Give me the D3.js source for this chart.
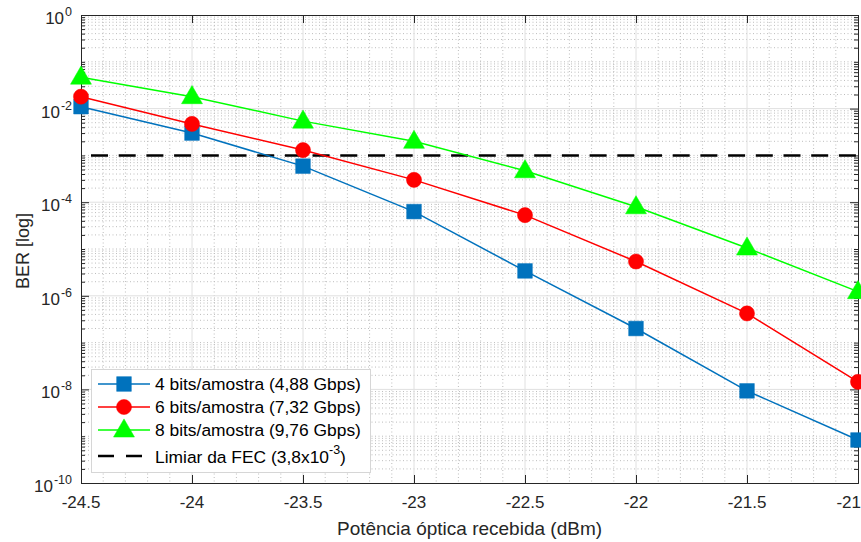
<!DOCTYPE html>
<html>
<head>
<meta charset="utf-8">
<script src="https://cdn.jsdelivr.net/npm/d3@7"></script>
<style>
  html, body { margin: 0; padding: 0; background: #fff; }
  svg { display: block; font-family: "Liberation Sans", Arial, Helvetica, sans-serif; }
</style>
</head>
<body>
<svg id="chart" width="861" height="542"></svg>
<script>
// ---- data ----
const power = [-24.5, -24, -23.5, -23, -22.5, -22, -21.5, -21];
const ber4 = [1.1e-2, 3.0e-3, 5.9e-4, 6.3e-5, 3.4e-6, 2.0e-7, 9.3e-9, 8.3e-10];
const ber6 = [1.8e-2, 4.7e-3, 1.3e-3, 3.0e-4, 5.3e-5, 5.4e-6, 4.2e-7, 1.45e-8];
const ber8 = [4.7e-2, 1.8e-2, 5.4e-3, 2.0e-3, 4.7e-4, 8.0e-5, 1.05e-5, 1.23e-6];
const fecLimit = 1e-3;
const xTicks = [-24.5, -24, -23.5, -23, -22.5, -22, -21.5, -21];
const xTickLabels = ["-24.5", "-24", "-23.5", "-23", "-22.5", "-22", "-21.5", "-21"];
const yTickExps = [0, -2, -4, -6, -8, -10];
const seriesNames = ["4 bits/amostra (4,88 Gbps)", "6 bits/amostra (7,32 Gbps)", "8 bits/amostra (9,76 Gbps)"];
const fecName = "Limiar da FEC (3,8x10";
const fecExp = "-3";
const xLabel = "Potência óptica recebida (dBm)";
const yLabel = "BER [log]";

// ---- layout ----
const L = 81, R = 858, T = 15, B = 483;
const svg = d3.select("#chart");
const x = d3.scaleLinear().domain([-24.5, -21]).range([L, R]);
const y = d3.scaleLog().domain([1e-10, 1]).range([B, T]);
const axisColor = "#262626";

// ---- grid ----
const grid = svg.append("g");
const xMinor = d3.range(-24.5, -20.99, 0.1).map(v => Math.round(v * 10) / 10).filter(v => !xTicks.some(t => Math.abs(t - v) < 1e-6));
grid.selectAll(".xminor").data(xMinor).enter().append("line")
  .attr("x1", d => x(d)).attr("x2", d => x(d)).attr("y1", T).attr("y2", B)
  .attr("stroke", "#bdbdbd").attr("stroke-width", 1).attr("stroke-dasharray", "1,2.5");
const yMinor = [];
for (let e = -10; e < 0; e++) for (let k = 1; k <= 9; k++) {
  if (k === 1 && e % 2 === 0) continue;
  yMinor.push(k * Math.pow(10, e));
}
grid.selectAll(".yminor").data(yMinor).enter().append("line")
  .attr("x1", L).attr("x2", R).attr("y1", d => y(d)).attr("y2", d => y(d))
  .attr("stroke", "#bdbdbd").attr("stroke-width", 1).attr("stroke-dasharray", "1,2.5");
grid.selectAll(".xmaj").data(xTicks.slice(1, -1)).enter().append("line")
  .attr("x1", d => x(d)).attr("x2", d => x(d)).attr("y1", T).attr("y2", B)
  .attr("stroke", "#e0e0e0").attr("stroke-width", 1);
grid.selectAll(".ymaj").data(yTickExps.slice(1, -1)).enter().append("line")
  .attr("x1", L).attr("x2", R).attr("y1", d => y(Math.pow(10, d))).attr("y2", d => y(Math.pow(10, d)))
  .attr("stroke", "#e0e0e0").attr("stroke-width", 1);

// ---- axes via d3 ----
const xAxisB = d3.axisBottom(x).tickValues(xTicks).tickSize(-8).tickFormat("");
const xAxisT = d3.axisTop(x).tickValues(xTicks).tickSize(-8).tickFormat("");
svg.append("g").attr("transform", `translate(0,${B})`).call(xAxisB)
  .call(g => g.selectAll("line,path").attr("stroke", axisColor));
svg.append("g").attr("transform", `translate(0,${T})`).call(xAxisT)
  .call(g => g.selectAll("line,path").attr("stroke", axisColor));
const yMajorVals = yTickExps.map(e => Math.pow(10, e));
const yAxisL = d3.axisLeft(y).tickValues(yMajorVals).tickSize(-8).tickFormat("");
const yAxisR = d3.axisRight(y).tickValues(yMajorVals).tickSize(-8).tickFormat("");
svg.append("g").attr("transform", `translate(${L},0)`).call(yAxisL)
  .call(g => g.selectAll("line,path").attr("stroke", axisColor));
svg.append("g").attr("transform", `translate(${R},0)`).call(yAxisR)
  .call(g => g.selectAll("line,path").attr("stroke", axisColor));
const yAxisLm = d3.axisLeft(y).tickValues(yMinor).tickSize(-4).tickFormat("");
const yAxisRm = d3.axisRight(y).tickValues(yMinor).tickSize(-4).tickFormat("");
svg.append("g").attr("transform", `translate(${L},0)`).call(yAxisLm)
  .call(g => g.selectAll("line").attr("stroke", axisColor)).call(g => g.select("path").remove());
svg.append("g").attr("transform", `translate(${R},0)`).call(yAxisRm)
  .call(g => g.selectAll("line").attr("stroke", axisColor)).call(g => g.select("path").remove());

// x tick labels (last one kept inside the window)
const lastIdx = xTicks.length - 1;
svg.append("g").selectAll("text").data(xTicks).enter().append("text")
  .attr("x", (d, i) => i === lastIdx ? 861 : x(d)).attr("y", 508)
  .attr("text-anchor", (d, i) => i === lastIdx ? "end" : "middle")
  .attr("font-size", 17).attr("fill", axisColor)
  .text((d, i) => xTickLabels[i]);
// y tick labels with superscripts
const yl = svg.append("g").selectAll("text").data(yTickExps).enter().append("text")
  .attr("x", 72).attr("y", d => y(Math.pow(10, d)) + 9).attr("text-anchor", "end")
  .attr("font-size", 17).attr("fill", axisColor);
yl.append("tspan").text("10");
yl.append("tspan").attr("dy", -8).attr("dx", 1).attr("font-size", 12.5).text(d => String(d));

// axis labels
svg.append("text").attr("x", (L + R) / 2).attr("y", 535).attr("text-anchor", "middle")
  .attr("font-size", 19).attr("fill", axisColor).text(xLabel);
svg.append("text").attr("transform", "translate(29,251) rotate(-90)").attr("text-anchor", "middle")
  .attr("font-size", 18).attr("fill", axisColor).text(yLabel);

// ---- FEC line ----
svg.append("line").attr("x1", x(-24.5)).attr("x2", x(-21)).attr("y1", y(fecLimit)).attr("y2", y(fecLimit))
  .attr("stroke", "#000").attr("stroke-width", 2.5).attr("stroke-dasharray", "17,10.7").attr("stroke-dashoffset", 17.7);

// ---- series ----
const colors = ["#0072BD", "#FF0000", "#00FF00"];
const data = [ber4, ber6, ber8];
const line = d3.line().x(d => x(d[0])).y(d => y(d[1]));
const symbols = [d3.symbolSquare, d3.symbolCircle, d3.symbolTriangle];
const symSizes = [215, 180, 190];
data.forEach((vals, i) => {
  const pts = power.map((p, j) => [p, vals[j]]);
  svg.append("path").datum(pts).attr("d", line).attr("fill", "none")
    .attr("stroke", colors[i]).attr("stroke-width", 1.5);
});
data.forEach((vals, i) => {
  const pts = power.map((p, j) => [p, vals[j]]);
  svg.append("g").selectAll("path").data(pts).enter().append("path")
    .attr("d", d3.symbol().type(symbols[i]).size(symSizes[i]))
    .attr("transform", d => `translate(${x(d[0])},${y(d[1]) + (i === 2 ? 1 : 0)})`)
    .attr("fill", colors[i]).attr("stroke", colors[i]).attr("stroke-width", 0.5);
});

// ---- legend ----
const lg = svg.append("g");
lg.append("rect").attr("x", 91.5).attr("y", 369.5).attr("width", 279).attr("height", 103)
  .attr("fill", "#fff").attr("stroke", "#d6d6d6").attr("stroke-width", 1);
const rowY = [384, 407, 430];
seriesNames.forEach((name, i) => {
  lg.append("line").attr("x1", 98).attr("x2", 150).attr("y1", rowY[i]).attr("y2", rowY[i])
    .attr("stroke", colors[i]).attr("stroke-width", 1.5);
  lg.append("path").attr("d", d3.symbol().type(symbols[i]).size(symSizes[i])())
    .attr("transform", `translate(124,${rowY[i] + (i === 2 ? 1 : 0)})`)
    .attr("fill", colors[i]).attr("stroke", colors[i]).attr("stroke-width", 0.5);
  lg.append("text").attr("x", 155).attr("y", rowY[i] + 6).attr("font-size", 17.4)
    .attr("fill", "#000").text(name);
});
lg.append("line").attr("x1", 98).attr("x2", 150).attr("y1", 456).attr("y2", 456)
  .attr("stroke", "#000").attr("stroke-width", 2.5).attr("stroke-dasharray", "16,12");
const ft = lg.append("text").attr("x", 155).attr("y", 463).attr("font-size", 17.4).attr("fill", "#000");
ft.append("tspan").text(fecName);
ft.append("tspan").attr("dy", -9).attr("font-size", 12.5).text(fecExp);
ft.append("tspan").attr("dy", 9).text(")");
</script>
</body>
</html>
